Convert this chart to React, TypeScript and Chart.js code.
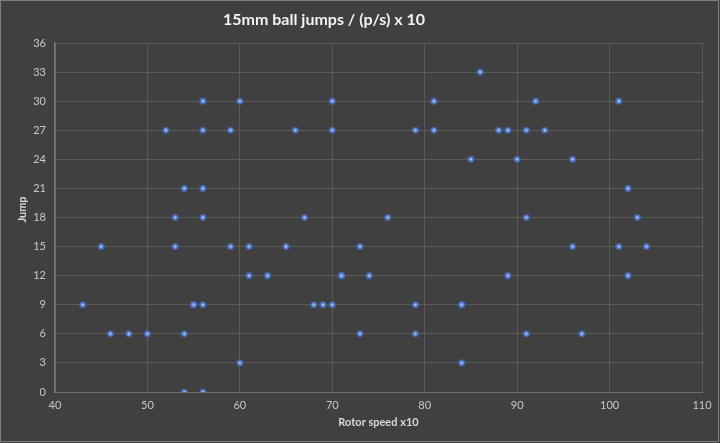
import React, { useEffect, useRef } from "react";
import { Chart, registerables } from "chart.js";

Chart.register(...registerables);

const chartTitle = "15mm ball jumps / (p/s) x 10";
const xAxisTitle = "Rotor speed x10";
const yAxisTitle = "Jump";

const rotorSpeed = [
  43, 45, 46, 48, 50, 52, 53, 53, 54, 54, 54, 55, 55, 56, 56, 56, 56, 56, 56,
  59, 59, 60, 60, 61, 61, 63, 65, 66, 67, 68, 69, 70, 70, 70, 71, 71, 73, 73,
  74, 76, 79, 79, 79, 81, 81, 84, 84, 84, 85, 86, 88, 89, 89, 90, 91, 91, 91,
  92, 93, 96, 96, 97, 101, 101, 102, 102, 103, 104,
];
const jumps = [
  9, 15, 6, 6, 6, 27, 18, 15, 21, 6, 0, 9, 9, 30, 27, 21, 18, 9, 0,
  27, 15, 30, 3, 15, 12, 12, 15, 27, 18, 9, 9, 30, 27, 9, 12, 12, 15, 6,
  12, 18, 27, 9, 6, 30, 27, 9, 9, 3, 24, 33, 27, 27, 12, 24, 27, 18, 6,
  30, 27, 24, 15, 6, 30, 15, 21, 12, 18, 15,
];

const xMin = 40;
const xMax = 110;
const xStep = 10;
const yMin = 0;
const yMax = 36;
const yStep = 3;

export default function App() {
  const ref = useRef<HTMLCanvasElement | null>(null);

  useEffect(() => {
    document.body.style.margin = "0";
    const canvas = ref.current;
    if (!canvas) return;

    const decor = {
      id: "decor",
      beforeDraw(chart: any) {
        const ctx = chart.ctx;
        ctx.save();
        ctx.fillStyle = "#404040";
        ctx.fillRect(0, 0, chart.width, chart.height);
        ctx.strokeStyle = "#7f7f7f";
        ctx.lineWidth = 1;
        ctx.strokeRect(0.5, 0.5, chart.width - 2, chart.height - 2);
        ctx.restore();
      },
      afterDraw(chart: any) {
        const ctx = chart.ctx;
        const area = chart.chartArea;
        ctx.save();
        ctx.fillStyle = "#f2f2f2";
        ctx.font = "bold 16px Lato";
        ctx.textAlign = "center";
        ctx.textBaseline = "middle";
        ctx.fillText(chartTitle, 324, 20);

        ctx.fillStyle = "#d9d9d9";
        ctx.font = "bold 11px Lato";
        ctx.fillText(xAxisTitle, (area.left + area.right) / 2, 422);

        ctx.translate(22, (area.top + area.bottom) / 2 - 8);
        ctx.rotate(-Math.PI / 2);
        ctx.fillText(yAxisTitle, 0, 0);
        ctx.restore();
      },
    };

    const chart = new Chart(canvas, {
      type: "scatter",
      data: {
        datasets: [
          {
            label: "Jump",
            data: rotorSpeed.map((x, i) => ({ x, y: jumps[i] })),
            pointRadius: 2.3,
            pointHoverRadius: 2.3,
            backgroundColor: "#b3cdf5",
            borderColor: "rgba(68,110,200,0.7)",
            borderWidth: 2.6,
          },
        ],
      },
      options: {
        responsive: false,
        animation: false,
        layout: { padding: { top: 43, right: 18, left: 0, bottom: 0 } },
        plugins: {
          legend: { display: false },
          title: { display: false },
          tooltip: { enabled: false },
        },
        scales: {
          x: {
            type: "linear",
            min: xMin,
            max: xMax,
            ticks: {
              stepSize: xStep,
              color: "#c8c8c8",
              font: { family: "Lato", size: 11 },
              padding: 7,
            },
            grid: { color: "#5a5a5a", lineWidth: 1, drawTicks: false },
            border: { color: "#6e6e6e", width: 1 },
            afterFit(scale: any) {
              scale.height = 51;
            },
          },
          y: {
            type: "linear",
            min: yMin,
            max: yMax,
            ticks: {
              stepSize: yStep,
              color: "#c8c8c8",
              font: { family: "Lato", size: 11 },
              padding: 9,
            },
            grid: { color: "#5a5a5a", lineWidth: 1, drawTicks: false },
            border: { color: "#7a7a7a", width: 1.5 },
            afterFit(scale: any) {
              scale.width = 55;
            },
          },
        },
      },
      plugins: [decor],
    });

    return () => chart.destroy();
  }, []);

  return <canvas ref={ref} width={720} height={443} style={{ display: "block" }} />;
}
